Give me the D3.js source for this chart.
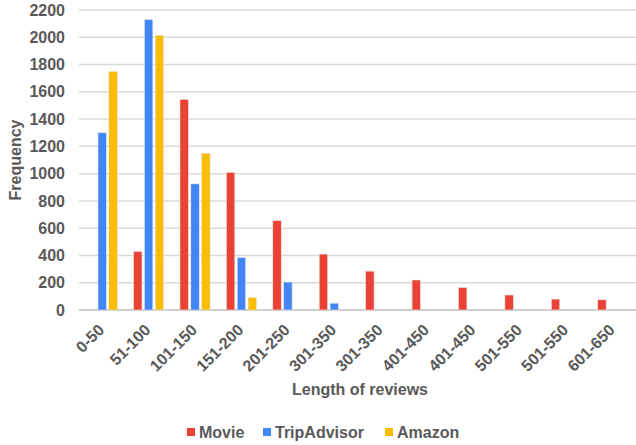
<!DOCTYPE html>
<html>
<head>
<meta charset="utf-8">
<script src="https://cdn.jsdelivr.net/npm/d3@7"></script>
<style>
  body { margin: 0; background: #fff; }
  text { font-family: "Liberation Sans", Arial, sans-serif; font-weight: bold; fill: #595959; }
</style>
</head>
<body>
<div id="chart"></div>
<script>
var categories = ["0-50", "51-100", "101-150", "151-200", "201-250", "301-350",
                  "301-350", "401-450", "401-450", "501-550", "501-550", "601-650"];
var seriesNames = ["Movie", "TripAdvisor", "Amazon"];
var movie       = [0, 430, 1545, 1010, 655, 410, 285, 220, 165, 110, 80, 75];
var tripAdvisor = [1300, 2130, 925, 385, 205, 50, 0, 0, 0, 0, 0, 0];
var amazon      = [1750, 2015, 1150, 90, 0, 0, 0, 0, 0, 0, 0, 0];
var yTicks = [0, 200, 400, 600, 800, 1000, 1200, 1400, 1600, 1800, 2000, 2200];
var colors = ["#EA4335", "#4285F4", "#FBBC04"];

var width = 636, height = 445;
var margin = {left: 79, right: 0, top: 10, bottom: 135};

var svg = d3.select("#chart").append("svg")
  .attr("width", width)
  .attr("height", height);

var x = d3.scaleBand()
  .domain(d3.range(categories.length))
  .range([margin.left, width - margin.right])
  .paddingInner(0.35)
  .paddingOuter(0.175);

var xs = d3.scaleBand()
  .domain(seriesNames)
  .range([0, x.bandwidth()])
  .paddingInner(0.22);

var y = d3.scaleLinear()
  .domain([0, 2200])
  .range([height - margin.bottom, margin.top]);

// grid
svg.append("g")
  .selectAll("line")
  .data(yTicks)
  .enter().append("line")
  .attr("x1", margin.left)
  .attr("x2", width - margin.right)
  .attr("y1", function(d) { return y(d); })
  .attr("y2", function(d) { return y(d); })
  .attr("stroke", function(d) { return d === 0 ? "#bfbfbf" : "#d9d9d9"; })
  .attr("stroke-width", 1.5);

// y labels
svg.append("g")
  .selectAll("text")
  .data(yTicks)
  .enter().append("text")
  .attr("x", 65)
  .attr("y", function(d) { return y(d); })
  .attr("dy", "0.35em")
  .attr("text-anchor", "end")
  .style("font-size", "16px")
  .text(function(d) { return d; });

// bars
var data = [movie, tripAdvisor, amazon];
var groups = svg.append("g")
  .selectAll("g")
  .data(categories)
  .enter().append("g")
  .attr("transform", function(d, i) { return "translate(" + x(i) + ",0)"; });

groups.selectAll("rect")
  .data(function(d, i) {
    return seriesNames.map(function(s, k) { return {s: s, k: k, v: data[k][i]}; })
      .filter(function(e) { return e.v > 0; });
  })
  .enter().append("rect")
  .attr("x", function(d) { return xs(d.s); })
  .attr("width", xs.bandwidth())
  .attr("y", function(d) { return y(d.v); })
  .attr("height", function(d) { return y(0) - y(d.v); })
  .attr("fill", function(d) { return colors[d.k]; })
  .attr("stroke", "#e8e8e8")
  .attr("stroke-width", 0.6);

// x labels
svg.append("g")
  .selectAll("text")
  .data(categories)
  .enter().append("text")
  .attr("text-anchor", "end")
  .attr("transform", function(d, i) {
    return "translate(" + (x(i) + x.bandwidth() / 2 + 3) + "," + (y(0) + 21) + ") rotate(-45)";
  })
  .style("font-size", "16px")
  .text(function(d) { return d; });

// axis titles
svg.append("text")
  .attr("x", 360)
  .attr("y", 395)
  .attr("text-anchor", "middle")
  .style("font-size", "16px")
  .text("Length of reviews");

svg.append("text")
  .attr("transform", "translate(21," + y(1100) + ") rotate(-90)")
  .attr("text-anchor", "middle")
  .style("font-size", "16px")
  .text("Frequency");

// legend
var legendX = [187, 263, 385];
var legend = svg.append("g")
  .selectAll("g")
  .data(seriesNames)
  .enter().append("g")
  .attr("transform", function(d, i) { return "translate(" + legendX[i] + ",428)"; });

legend.append("rect")
  .attr("width", 8)
  .attr("height", 8)
  .attr("fill", function(d, i) { return colors[i]; });

legend.append("text")
  .attr("x", 12)
  .attr("y", 4)
  .attr("dy", "0.35em")
  .style("font-size", "16px")
  .text(function(d) { return d; });
</script>
</body>
</html>
